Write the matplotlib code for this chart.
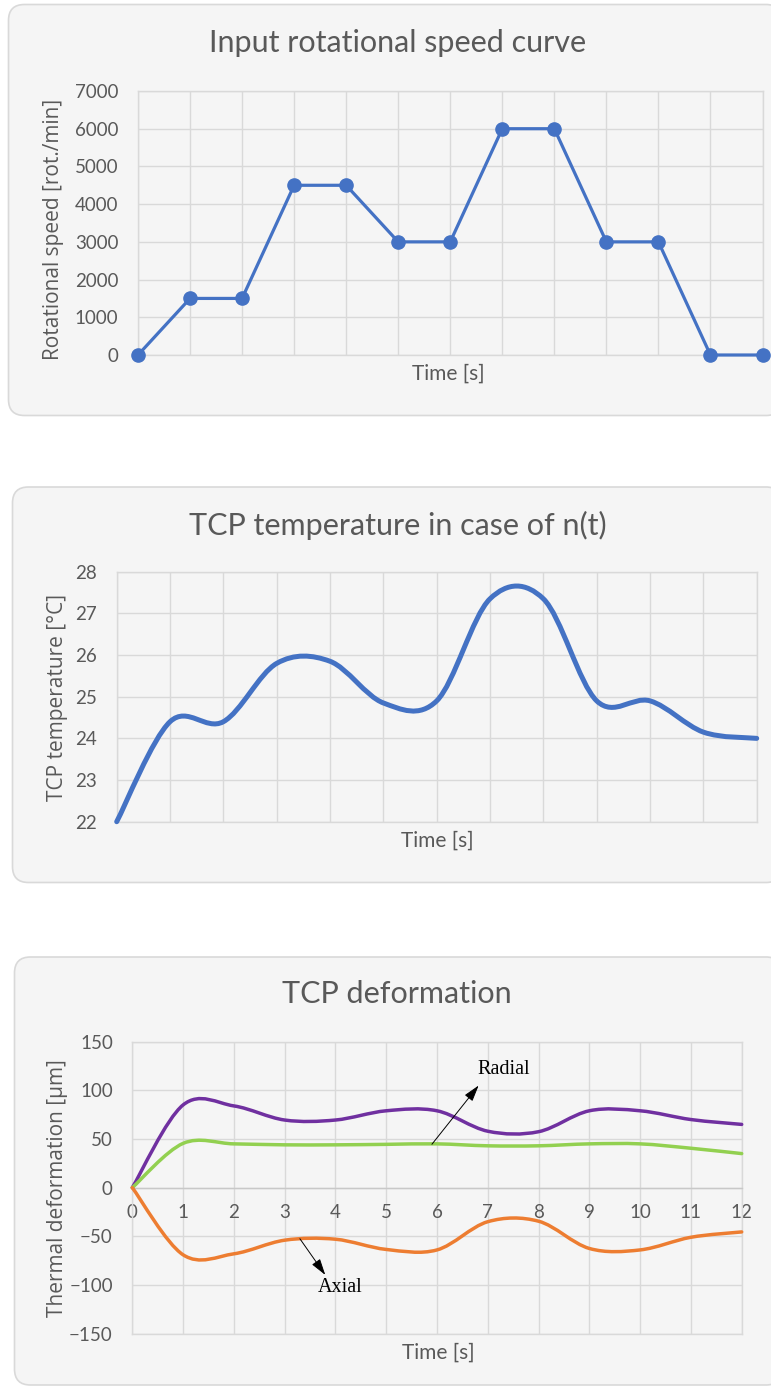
import matplotlib
matplotlib.use("Agg")
import matplotlib.pyplot as plt
from matplotlib.patches import FancyBboxPatch, PathPatch
from matplotlib.path import Path

W, H = 771, 1386

# ---- data ----
time_s = list(range(13))
speed_rpm = [0, 1500, 1500, 4500, 4500, 3000, 3000, 6000, 6000, 3000, 3000, 0, 0]

tcp_temp = [22.0, 24.4, 24.4, 25.8, 25.85, 24.85, 24.9, 27.35, 27.35, 24.9, 24.9, 24.15, 24.0]

deform_purple = [0, 85, 84, 69.5, 69.5, 79, 79, 58, 57.5, 79, 79, 70, 65]
deform_green = [0, 45.5, 45, 44, 44, 44.5, 45, 43, 43, 45, 45, 40.5, 35]
deform_orange = [0, -69, -68, -54, -53, -63.5, -64, -35, -34.5, -62.5, -64, -51, -45.5]

BLUE = "#4472C4"
PURPLE = "#7030A0"
GREEN = "#92D050"
ORANGE = "#ED7D31"
GRID = "#D9D9D9"
TXT = "#595959"
BG = "#F5F5F5"

TICK_FONT = "Lato"
LABEL_FONT = "Open Sans"


def fx(px):
    return px / W


def fy(py):
    return 1 - py / H


def add_box(fig, left, top, right, bottom):
    box = FancyBboxPatch(
        (left / 100, (H - bottom) / 100),
        (right - left) / 100,
        (bottom - top) / 100,
        boxstyle="round,pad=0,rounding_size=0.16",
        transform=fig.dpi_scale_trans,
        facecolor=BG,
        edgecolor=GRID,
        linewidth=1.2,
        zorder=-5,
    )
    fig.patches.append(box)


def add_axes(fig, left, top, right, bottom):
    ax = fig.add_axes([fx(left), fy(bottom), fx(right - left), (bottom - top) / H])
    ax.set_facecolor("none")
    for s in ax.spines.values():
        s.set_color(GRID)
        s.set_linewidth(1.0)
    ax.grid(True, color=GRID, linewidth=1.0)
    ax.set_axisbelow(True)
    ax.tick_params(length=0, colors=TXT, labelsize=13.5, pad=14)
    return ax


def set_tick_font(ax):
    for lab in ax.get_yticklabels() + ax.get_xticklabels():
        lab.set_fontfamily(TICK_FONT)


def smooth_path(xs, ys):
    # Excel style smoothed line (Catmull-Rom as cubic Bezier)
    n = len(xs)
    verts = [(xs[0], ys[0])]
    codes = [Path.MOVETO]
    for i in range(n - 1):
        x0, y0 = (xs[i - 1], ys[i - 1]) if i > 0 else (xs[i], ys[i])
        x1, y1 = xs[i], ys[i]
        x2, y2 = xs[i + 1], ys[i + 1]
        x3, y3 = (xs[i + 2], ys[i + 2]) if i + 2 < n else (x2, y2)
        verts.append((x1 + (x2 - x0) / 6, y1 + (y2 - y0) / 6))
        verts.append((x2 - (x3 - x1) / 6, y2 - (y3 - y1) / 6))
        verts.append((x2, y2))
        codes += [Path.CURVE4] * 3
    return Path(verts, codes)


def add_smooth(ax, xs, ys, color, lw):
    patch = PathPatch(smooth_path(xs, ys), facecolor="none", edgecolor=color,
                      linewidth=lw, capstyle="round", joinstyle="round",
                      clip_on=False, zorder=3)
    ax.add_patch(patch)


fig = plt.figure(figsize=(W / 100, H / 100), dpi=100)
fig.patch.set_facecolor("white")

# ---- panel 1: rotational speed ----
add_box(fig, 8.5, 4.5, 782, 415.5)
ax1 = add_axes(fig, 138, 91, 762.5, 355)
ax1.plot(time_s, speed_rpm, color=BLUE, linewidth=2.3, marker="o",
         markersize=9.5, clip_on=False, zorder=3)
ax1.set_xlim(0, 12)
ax1.set_ylim(0, 7000)
ax1.set_xticks(time_s)
ax1.set_xticklabels([])
ax1.set_yticks(range(0, 7001, 1000))
set_tick_font(ax1)
fig.text(fx(398), fy(43), "Input rotational speed curve", ha="center", va="center",
         fontsize=22, color=TXT, family=TICK_FONT)
fig.text(fx(54), fy(229), "Rotational speed [rot./min]", rotation=90, ha="center",
         va="center", fontsize=15, color=TXT, family=LABEL_FONT)
fig.text(fx(448), fy(374), "Time [s]", ha="center", va="center", fontsize=15,
         color=TXT, family=TICK_FONT)

# ---- panel 2: TCP temperature ----
add_box(fig, 12.5, 487, 782, 882.5)
ax2 = add_axes(fig, 116.7, 571.7, 756.7, 821.7)
add_smooth(ax2, time_s, tcp_temp, BLUE, 3.6)
ax2.set_xlim(0, 12)
ax2.set_ylim(22, 28)
ax2.set_xticks(time_s)
ax2.set_xticklabels([])
ax2.set_yticks(range(22, 29))
set_tick_font(ax2)
fig.text(fx(398), fy(525), "TCP temperature in case of n(t)", ha="center", va="center",
         fontsize=22, color=TXT, family=TICK_FONT)
fig.text(fx(58), fy(697), "TCP temperature [°C]", rotation=90, ha="center",
         va="center", fontsize=15, color=TXT, family=LABEL_FONT)
fig.text(fx(437), fy(841), "Time [s]", ha="center", va="center", fontsize=15,
         color=TXT, family=TICK_FONT)

# ---- panel 3: TCP deformation ----
add_box(fig, 14.5, 957, 782, 1385)
ax3 = add_axes(fig, 132.3, 1041.7, 741.7, 1333.6)
add_smooth(ax3, time_s, deform_purple, PURPLE, 2.5)
add_smooth(ax3, time_s, deform_green, GREEN, 2.5)
add_smooth(ax3, time_s, deform_orange, ORANGE, 2.5)
ax3.set_xlim(0, 12)
ax3.set_ylim(-150, 150)
ax3.set_xticks(time_s)
ax3.set_yticks(range(-150, 151, 50))
ax3.spines["bottom"].set_position(("data", 0))
ax3.spines["bottom"].set_color("#C8C8C8")
ax3.axhline(-150, color=GRID, linewidth=1.0, clip_on=False, zorder=1)
ax3.tick_params(axis="x", pad=12)
set_tick_font(ax3)

ax3.annotate("", xy=(6.82, 105), xytext=(5.9, 44.6),
             arrowprops=dict(arrowstyle="-|>,head_length=1.0,head_width=0.3",
                             color="black", linewidth=0.7, shrinkA=0, shrinkB=0))
ax3.text(7.32, 121, "Radial", ha="center", va="center", fontsize=14.5,
         family="Liberation Serif", color="black")
ax3.annotate("", xy=(3.8, -89.7), xytext=(3.3, -52.5),
             arrowprops=dict(arrowstyle="-|>,head_length=1.0,head_width=0.3",
                             color="black", linewidth=0.7, shrinkA=0, shrinkB=0))
ax3.text(4.1, -103, "Axial", ha="center", va="center", fontsize=14.5,
         family="Liberation Serif", color="black")

fig.text(fx(397), fy(994), "TCP deformation", ha="center", va="center",
         fontsize=22, color=TXT, family=TICK_FONT)
fig.text(fx(58), fy(1188), "Thermal deformation [µm]", rotation=90, ha="center",
         va="center", fontsize=15, color=TXT, family=LABEL_FONT)
fig.text(fx(438), fy(1353), "Time [s]", ha="center", va="center", fontsize=15,
         color=TXT, family=TICK_FONT)

fig.savefig("out.png", dpi=100)
